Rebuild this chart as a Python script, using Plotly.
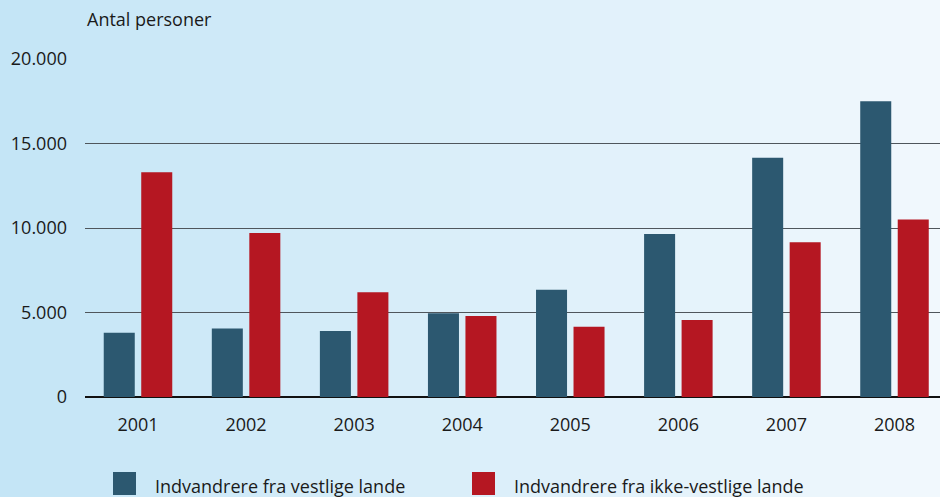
import plotly.graph_objects as go

years = ["2001", "2002", "2003", "2004", "2005", "2006", "2007", "2008"]
vestlige = [3800, 4050, 3900, 4950, 6350, 9650, 14150, 17500]
ikke_vestlige = [13300, 9700, 6200, 4800, 4150, 4550, 9150, 10500]
series_names = ["Indvandrere fra vestlige lande", "Indvandrere fra ikke-vestlige lande"]
y_tickvals = [0, 5000, 10000, 15000, 20000]
y_ticktext = ["0", "5.000", "10.000", "15.000", "20.000"]
y_title = "Antal personer"

BLUE = "#2c5870"
RED = "#b51722"
FONT = "Open Sans"
W, H = 940, 497
ML, MR, MT, MB = 85, 0, 59, 100
PW, PH = W - ML - MR, H - MT - MB

fig = go.Figure()
fig.add_trace(go.Bar(x=years, y=vestlige, name=series_names[0], marker_color=BLUE,
                     marker_line_width=0, showlegend=False))
fig.add_trace(go.Bar(x=years, y=ikke_vestlige, name=series_names[1], marker_color=RED,
                     marker_line_width=0, showlegend=False))

def px2x(p):
    return (p - ML) / PW

def px2y(p):
    return (H - MB - p) / PH

shapes = []
# background gradient strips
n = 94
c0 = (196, 229, 246)
c1 = (241, 248, 253)
for i in range(n):
    t = i / (n - 1)
    col = tuple(round(c0[k] + (c1[k] - c0[k]) * t) for k in range(3))
    x0 = i * W / n
    x1 = (i + 1) * W / n + 1
    shapes.append(dict(type="rect", xref="paper", yref="paper", layer="below",
                       x0=px2x(x0), x1=px2x(x1), y0=px2y(H + 2), y1=px2y(-2),
                       line=dict(width=0), fillcolor="rgb(%d,%d,%d)" % col))

# legend swatches
legend_pos = [(113, 153), (472, 512)]
annotations = []
for (sx, tx), name, col in zip(legend_pos, series_names, [BLUE, RED]):
    shapes.append(dict(type="rect", xref="paper", yref="paper",
                       x0=px2x(sx), x1=px2x(sx + 23), y0=px2y(495), y1=px2y(472),
                       line=dict(width=0), fillcolor=col))
    annotations.append(dict(text=name, xref="paper", yref="paper", x=px2x(tx), y=px2y(486),
                            xanchor="left", yanchor="middle", showarrow=False,
                            font=dict(family=FONT, size=18, color="#1a1a1a")))

annotations.append(dict(text=y_title, xref="paper", yref="paper", x=0, y=px2y(19),
                        xanchor="left", yanchor="middle", showarrow=False,
                        font=dict(family=FONT, size=18, color="#1a1a1a")))

cat_px = 108.07
x_left = -53 / cat_px
x_right = x_left + PW / cat_px

fig.update_layout(
    width=W, height=H,
    margin=dict(l=ML, r=MR, t=MT, b=MB, pad=0),
    paper_bgcolor="#e0f1fa", plot_bgcolor="rgba(0,0,0,0)",
    barmode="group", bargap=0.306, bargroupgap=0.173,
    font=dict(family=FONT, size=18, color="#1a1a1a"),
    shapes=shapes, annotations=annotations,
    xaxis=dict(showgrid=False, ticks="", ticklabelstandoff=15, showline=False,
               tickfont=dict(size=18), zeroline=False, range=[x_left, x_right]),
    yaxis=dict(range=[0, 20000], tickvals=y_tickvals, ticktext=y_ticktext,
               showgrid=True, gridcolor="#4f565c", gridwidth=1.4,
               zeroline=True, zerolinecolor="#111111", zerolinewidth=1.6,
               showline=False, ticks="", ticklabelstandoff=17, tickfont=dict(size=18)),
)

fig.write_html("out.html", config={"displayModeBar": False},
               post_script="document.body.style.margin='0';document.body.style.overflow='hidden';")
